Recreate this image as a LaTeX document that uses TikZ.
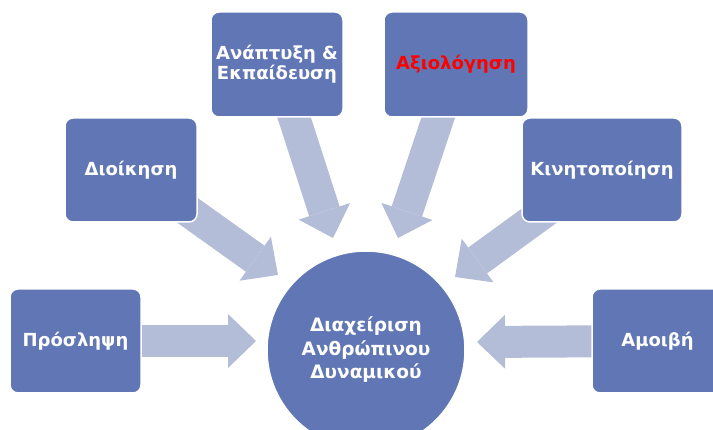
\documentclass[tikz,border=0pt]{standalone}
\usepackage{fontspec}
\setmainfont{DejaVu Sans}
\usepackage{tikz}
\usetikzlibrary{positioning, arrows.meta, backgrounds}

\definecolor{boxblue}{RGB}{97,119,181}
\definecolor{arrowblue}{RGB}{180,189,216}

\tikzset{
    box/.style={rectangle, rounded corners=8pt, fill=boxblue, draw=white, line width=1.5pt,
        minimum height=104pt, inner sep=0pt, text=white, align=center,
        font=\bfseries\fontsize{18}{20}\selectfont},
    hub/.style={circle, fill=boxblue, draw=white, line width=1.5pt, minimum size=198pt,
        inner sep=0pt, text=white, align=center,
        font=\bfseries\fontsize{18.5}{23.5}\selectfont},
    bigarrow/.style={draw=arrowblue, line width=32pt,
        -{Triangle[length=28pt, width=54pt, line width=0pt]}}
}

\begin{document}
\begin{tikzpicture}[x=1pt, y=-1pt]
        \useasboundingbox (0,0) rectangle (713,430);

        \node[hub] (hrm) at (366,350) {Διαχείριση\\Ανθρώπινου\\Δυναμικού};

        \node[box, minimum width=131pt] (prosl) at (75.5,341) {Πρόσληψη};
        \node[box, minimum width=132pt] (dioik) at (131,170) {Διοίκηση};
        \node[box, minimum width=132pt, minimum height=105pt] (anapt) at (277,64.5) {Ανάπτυξη \&\\Εκπαίδευση};
        \node[box, minimum width=144pt, minimum height=105pt, text=red] (axiol) at (456,64.5) {Αξιολόγηση};
        \node[box, minimum width=160pt] (kinit) at (602,170) {Κινητοποίηση};
        \node[box, minimum width=131pt] (amoib) at (657.5,341) {Αμοιβή};

        % arrow tips, short of the circle
        \coordinate (tprosl) at (256,341);
        \coordinate (tdioik) at (278,275);
        \coordinate (tanapt) at (333,238);
        \coordinate (taxiol) at (398,238);
        \coordinate (tkinit) at (455,277);
        \coordinate (tamoib) at (477,342);

        \begin{scope}[on background layer]
            \foreach \src in {prosl, dioik, anapt, axiol, kinit, amoib}{
                \draw[bigarrow] (\src.center) -- (t\src);
            }
        \end{scope}

    \end{tikzpicture}
\end{document}
